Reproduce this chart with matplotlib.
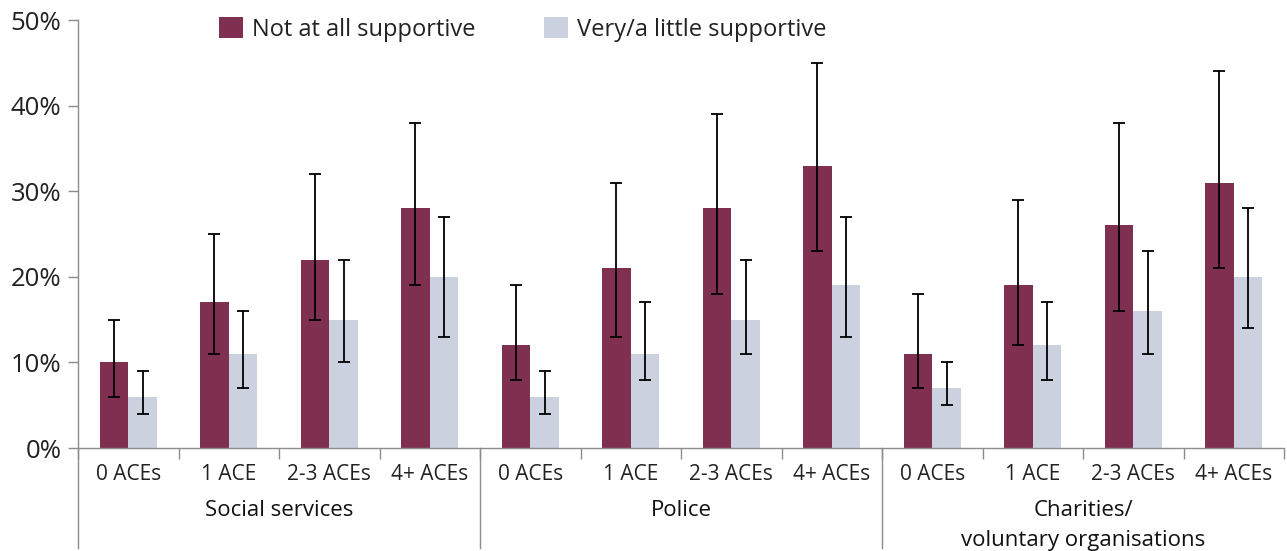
import matplotlib
matplotlib.use("Agg")
import matplotlib.pyplot as plt
import numpy as np
from matplotlib.transforms import blended_transform_factory

plt.rcParams['font.family'] = ['Open Sans', 'DejaVu Sans']

ace_labels = ['0 ACEs', '1 ACE', '2-3 ACEs', '4+ ACEs']
groups = ['Social services', 'Police', 'Charities/\nvoluntary organisations']

not_supportive = [10, 17, 22, 28, 12, 21, 28, 33, 11, 19, 26, 31]
not_low = [6, 11, 15, 19, 8, 13, 18, 23, 7, 12, 16, 21]
not_high = [15, 25, 32, 38, 19, 31, 39, 45, 18, 29, 38, 44]

supportive = [6, 11, 15, 20, 6, 11, 15, 19, 7, 12, 16, 20]
sup_low = [4, 7, 10, 13, 4, 8, 11, 13, 5, 8, 11, 14]
sup_high = [9, 16, 22, 27, 9, 17, 22, 27, 10, 17, 23, 28]

dark = '#7F2F4F'
light = '#CBD1DF'
axis_grey = '#8C8C8C'

fig = plt.figure(figsize=(12.87, 5.51), dpi=100)
ax = fig.add_axes([78 / 1287, 103 / 551, (1284 - 78) / 1287, 428 / 551])

x = np.arange(len(not_supportive))
w = 0.285
nv = np.array(not_supportive)
sv = np.array(supportive)
err_n = [nv - np.array(not_low), np.array(not_high) - nv]
err_s = [sv - np.array(sup_low), np.array(sup_high) - sv]

ax.bar(x - w / 2, nv, w, color=dark, label='Not at all supportive', zorder=2)
ax.bar(x + w / 2, sv, w, color=light, label='Very/a little supportive', zorder=2)
ax.errorbar(x - w / 2, nv, yerr=err_n, fmt='none', ecolor='black', elinewidth=1.3,
            capsize=4.3, capthick=1.3, zorder=3)
ax.errorbar(x + w / 2, sv, yerr=err_s, fmt='none', ecolor='black', elinewidth=1.3,
            capsize=4.3, capthick=1.3, zorder=3)

ax.set_xlim(-0.5, 11.5)
ax.set_ylim(0, 50)
ax.set_yticks(range(0, 51, 10))
ax.set_yticklabels([f'{v}%' for v in range(0, 51, 10)], fontsize=18.5, color='#222222')
ax.set_xticks(np.arange(-0.5, 12, 1))
ax.set_xticklabels([])
ax.tick_params(axis='x', length=8, color=axis_grey, width=1)
ax.tick_params(axis='y', length=7, color=axis_grey, width=1, pad=5)

for s in ['top', 'right']:
    ax.spines[s].set_visible(False)
for s in ['left', 'bottom']:
    ax.spines[s].set_color(axis_grey)
    ax.spines[s].set_linewidth(1)

trans = blended_transform_factory(ax.transData, ax.transAxes)
for i in x:
    ax.text(i, -0.061, ace_labels[i % 4], transform=trans, ha='center', va='center',
            fontsize=15, color='#222222')
for g, name in enumerate(groups):
    for k, line in enumerate(name.split('\n')):
        ax.text(g * 4 + 1.5, -0.147 - k * 0.07, line, transform=trans, ha='center',
                va='center', fontsize=16, color='#111111')
for b in [-0.5, 3.5, 7.5]:
    ax.plot([b, b], [0, -0.234], transform=trans, color=axis_grey, lw=1, clip_on=False)

fig.legend(loc='upper left', bbox_to_anchor=(198 / 1287, 1 + 4 / 551), ncol=2, frameon=False,
           fontsize=17, handlelength=1.0, handleheight=1.0, handletextpad=0.4,
           columnspacing=2.9, labelcolor='#222222')

fig.savefig('out.png', dpi=100)
